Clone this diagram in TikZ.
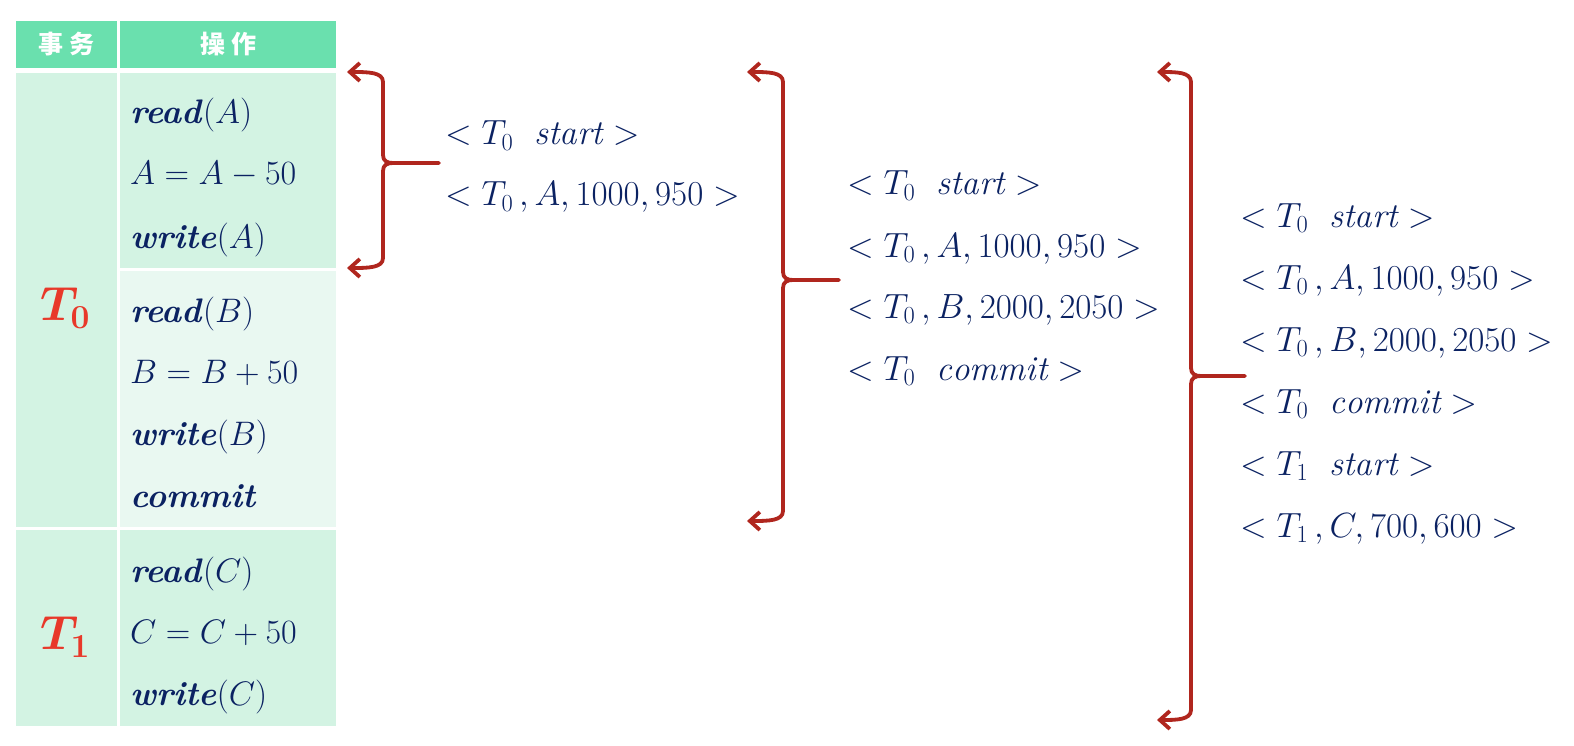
\RequirePackage{fix-cm}
\documentclass[tikz,border=0pt]{standalone}
\usepackage{bm}
\usepackage{fontspec}
\newfontfamily\cjk{Noto Sans CJK SC}
\usetikzlibrary{arrows.meta}
\definecolor{hdr}{HTML}{6AE0AE}
\definecolor{cellA}{HTML}{D3F3E3}
\definecolor{cellB}{HTML}{E9F8F1}
\definecolor{ink}{HTML}{0B2262}
\definecolor{tred}{HTML}{E8382A}
\definecolor{brc}{HTML}{B0261E}
\newcommand{\opb}[1]{\textbf{\textit{#1}}}
\begin{document}
\begin{tikzpicture}[x=1pt,y=-1pt,
  cell/.style={anchor=north west, inner sep=0, outer sep=0, draw=none},
  hcell/.style={cell, fill=hdr},
  htext/.style={text=white, font=\cjk\bfseries\fontsize{25}{28}\selectfont, inner sep=0},
  optext/.style={anchor=base west, inner sep=0, text=ink,
                 font=\fontsize{34}{40}\selectfont},
  logtext/.style={anchor=base west, inner sep=0, text=ink,
                 font=\fontsize{35}{40}\selectfont},
  tlabel/.style={text=tred, inner sep=0, font=\fontsize{48}{54}\selectfont},
  bracket/.style={draw=brc, line width=3.8pt, line cap=round, line join=round},
  tip/.style={{Straight Barb[length=10pt,width=18pt,line width=3.8pt]}-}
]
\useasboundingbox (0,0) rectangle (1574,746);

% ---- table ----
\node[hcell, minimum width=101pt, minimum height=47pt] (hT) at (16,21) {};
\node[hcell, minimum width=216pt, minimum height=47pt] (hO) at (120,21) {};
\node[htext] at (hT.center) {事\hspace{6pt}务};
\node[htext] at (hO.center) {操\hspace{6pt}作};

\node[cell, fill=cellA, minimum width=101pt, minimum height=454pt] (c0) at (16,73) {};
\node[cell, fill=cellA, minimum width=101pt, minimum height=196pt] (c1) at (16,530) {};
\node[cell, fill=cellA, minimum width=216pt, minimum height=195pt] (rA) at (120,73) {};
\node[cell, fill=cellB, minimum width=216pt, minimum height=256pt] (rB) at (120,271) {};
\node[cell, fill=cellA, minimum width=216pt, minimum height=196pt] (rC) at (120,530) {};

\node[tlabel] (t0) at (65,308) {$\bm{T_0}$};
\node[tlabel] (t1) at (65,637) {$\bm{T_1}$};

\node[optext] (o1) at (130,124) {\opb{read}$(A)$};
\node[optext] (o2) at (130,185) {$A=A-50$};
\node[optext] (o3) at (130,248) {\opb{write}$(A)$};
\node[optext] (o4) at (130,322) {\opb{read}$(B)$};
\node[optext] (o5) at (130,383) {$B=B+50$};
\node[optext] (o6) at (130,445) {\opb{write}$(B)$};
\node[optext] (o7) at (130,507) {\opb{commit}};
\node[optext] (o8) at (130,582) {\opb{read}$(C)$};
\node[optext] (o9) at (130,643) {$C=C+50$};
\node[optext] (o10) at (130,705) {\opb{write}$(C)$};

% ---- log snapshots ----
\node[logtext] (la1) at (445,145) {$<T_0~~\mathit{start}>$};
\node[logtext] (la2) at (445,206) {$<T_0\,,A,1000,950>$};

\node[logtext] (lb1) at (847,195) {$<T_0~~\mathit{start}>$};
\node[logtext] (lb2) at (847,257) {$<T_0\,,A,1000,950>$};
\node[logtext] (lb3) at (847,318) {$<T_0\,,B,2000,2050>$};
\node[logtext] (lb4) at (847,380) {$<T_0~~\mathit{commit}>$};

\node[logtext] (lc1) at (1240,227) {$<T_0~~\mathit{start}>$};
\node[logtext] (lc2) at (1240,289) {$<T_0\,,A,1000,950>$};
\node[logtext] (lc3) at (1240,351) {$<T_0\,,B,2000,2050>$};
\node[logtext] (lc4) at (1240,413) {$<T_0~~\mathit{commit}>$};
\node[logtext] (lc5) at (1240,475) {$<T_1~~\mathit{start}>$};
\node[logtext] (lc6) at (1240,537) {$<T_1\,,C,700,600>$};

% ---- braces: arrow ends and tips ----
\coordinate (p1t) at (347,72);  \coordinate (p1b) at (347,268);
\coordinate (p2t) at (747,72);  \coordinate (p2b) at (747,521);
\coordinate (p3t) at (1157,72); \coordinate (p3b) at (1157,720);
\coordinate (q1) at (439,163);
\coordinate (q2) at (839,280);
\coordinate (q3) at (1245,376);

% brace 1
\draw[bracket,tip] (p1t) .. controls (368,72) and (383,72) .. (383,82)
  -- (383,155) .. controls (383,161) and (387,163) .. (393,163) -- (q1);
\draw[bracket,tip] (p1b) .. controls (368,268) and (383,268) .. (383,258)
  -- (383,171) .. controls (383,165) and (387,163) .. (393,163);
% brace 2
\draw[bracket,tip] (p2t) .. controls (768,72) and (783,72) .. (783,82)
  -- (783,272) .. controls (783,278) and (787,280) .. (793,280) -- (q2);
\draw[bracket,tip] (p2b) .. controls (768,521) and (783,521) .. (783,511)
  -- (783,288) .. controls (783,282) and (787,280) .. (793,280);
% brace 3
\draw[bracket,tip] (p3t) .. controls (1176,72) and (1191,72) .. (1191,82)
  -- (1191,368) .. controls (1191,374) and (1195,376) .. (1201,376) -- (q3);
\draw[bracket,tip] (p3b) .. controls (1176,720) and (1191,720) .. (1191,710)
  -- (1191,384) .. controls (1191,378) and (1195,376) .. (1201,376);
\end{tikzpicture}
\end{document}
